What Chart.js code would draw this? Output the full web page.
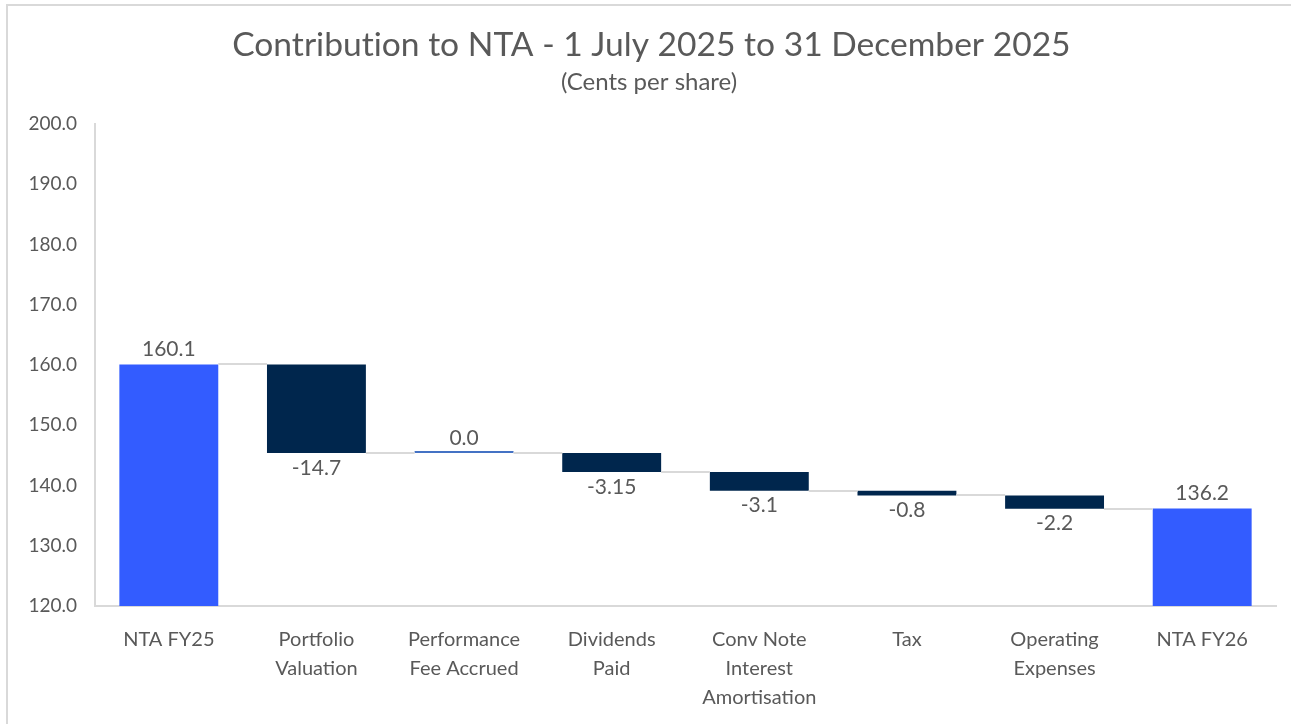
<!DOCTYPE html>
<html>
<head>
<meta charset="utf-8">
<script src="https://cdn.jsdelivr.net/npm/chart.js@4.4.0/dist/chart.umd.min.js"></script>
<style>
  html, body { margin: 0; padding: 0; background: #fff; overflow: hidden; }
  #wrap { position: relative; width: 1291px; height: 724px; }
  #frame { position: absolute; left: 6px; top: 4px; width: 1400px; height: 800px; border: 2px solid #D9D9D9; box-sizing: border-box; }
  canvas { position: absolute; left: 0; top: 0; }
</style>
</head>
<body>
<div id="wrap">
  <div id="frame"></div>
  <canvas id="c" width="1291" height="724"></canvas>
</div>
<script>
const categories = [
  ["NTA FY25"],
  ["Portfolio", "Valuation"],
  ["Performance", "Fee Accrued"],
  ["Dividends", "Paid"],
  ["Conv Note", "Interest", "Amortisation"],
  ["Tax"],
  ["Operating", "Expenses"],
  ["NTA FY26"]
];
const changeValues = [160.1, -14.7, 0.0, -3.15, -3.1, -0.8, -2.2, 136.2];
const isTotal = [true, false, false, false, false, false, false, true];
const valueLabels = ["160.1", "-14.7", "0.0", "-3.15", "-3.1", "-0.8", "-2.2", "136.2"];
const yTicks = [120, 130, 140, 150, 160, 170, 180, 190, 200];

const AXIS_MIN = 120;
const FONT = "Lato, 'Open Sans', sans-serif";
const TEXT = "#595959";

// build floating ranges
const ranges = [];
let running = 0;
changeValues.forEach((v, i) => {
  if (isTotal[i]) { ranges.push([AXIS_MIN, v]); running = v; }
  else { const start = running; running = running + v; ranges.push([start, running]); }
});
const colors = changeValues.map((v, i) => isTotal[i] ? "#335CFF" : (v === 0 ? "#4472C4" : "#00264D"));

const overlay = {
  id: "overlay",
  afterDatasetsDraw(chart) {
    const ctx = chart.ctx;
    const meta = chart.getDatasetMeta(0);
    const y = chart.scales.y;
    ctx.save();
    ctx.strokeStyle = "#D9D9D9";
    ctx.lineWidth = 2;
    for (let i = 0; i < ranges.length - 1; i++) {
      const endVal = ranges[i][1];
      const a = meta.data[i], b = meta.data[i + 1];
      const py = Math.round(y.getPixelForValue(endVal));
      ctx.beginPath();
      ctx.moveTo(a.x + a.width / 2, py);
      ctx.lineTo(b.x - b.width / 2, py);
      ctx.stroke();
    }
    ctx.fillStyle = TEXT;
    ctx.font = "21px " + FONT;
    ctx.textAlign = "center";
    ctx.textBaseline = "middle";
    meta.data.forEach((el, i) => {
      const r = ranges[i];
      const top = Math.max(r[0], r[1]);
      const bot = Math.min(r[0], r[1]);
      if (isTotal[i] || changeValues[i] >= 0) {
        ctx.fillText(valueLabels[i], el.x, y.getPixelForValue(top) - 15);
      } else {
        ctx.fillText(valueLabels[i], el.x, y.getPixelForValue(bot) + 15);
      }
    });
    ctx.restore();
  }
};

new Chart(document.getElementById("c"), {
  type: "bar",
  data: {
    labels: categories,
    datasets: [{
      data: ranges,
      backgroundColor: colors,
      borderWidth: 0,
      minBarLength: 2,
      barPercentage: 0.67,
      categoryPercentage: 1.0
    }]
  },
  options: {
    responsive: false,
    animation: false,
    layout: { padding: { left: 10, right: 15, top: 0, bottom: 12 } },
    plugins: {
      legend: { display: false },
      tooltip: { enabled: false },
      title: {
        display: true,
        text: "\u2002Contribut\u200Cion to NTA - 1 July 2025 to 31 December 2025",
        color: TEXT,
        font: { family: FONT, size: 33.6, weight: "normal", lineHeight: 1.2 },
        padding: { top: 25, bottom: 3 }
      },
      subtitle: {
        display: true,
        text: "\u2002(Cents per share)",
        color: TEXT,
        font: { family: FONT, size: 24, weight: "normal", lineHeight: 1.2 },
        padding: { top: 0, bottom: 27 }
      }
    },
    scales: {
      x: {
        afterFit(axis) { axis.height = 106; },
        grid: { display: false, drawTicks: false },
        border: { display: true, color: "#D9D9D9", width: 2 },
        ticks: { color: TEXT, font: { family: FONT, size: 20, lineHeight: 1.45 }, padding: 19, maxRotation: 0, autoSkip: false }
      },
      y: {
        min: AXIS_MIN, max: 200,
        afterBuildTicks(axis) { axis.ticks = yTicks.map(v => ({ value: v })); },
        afterFit(axis) { axis.width = 85; },
        grid: { display: false, drawTicks: false },
        border: { display: true, color: "#D9D9D9", width: 2 },
        ticks: { color: TEXT, font: { family: FONT, size: 19 }, padding: 18, callback: v => Number(v).toFixed(1) }
      }
    }
  },
  plugins: [overlay]
});
</script>
</body>
</html>
